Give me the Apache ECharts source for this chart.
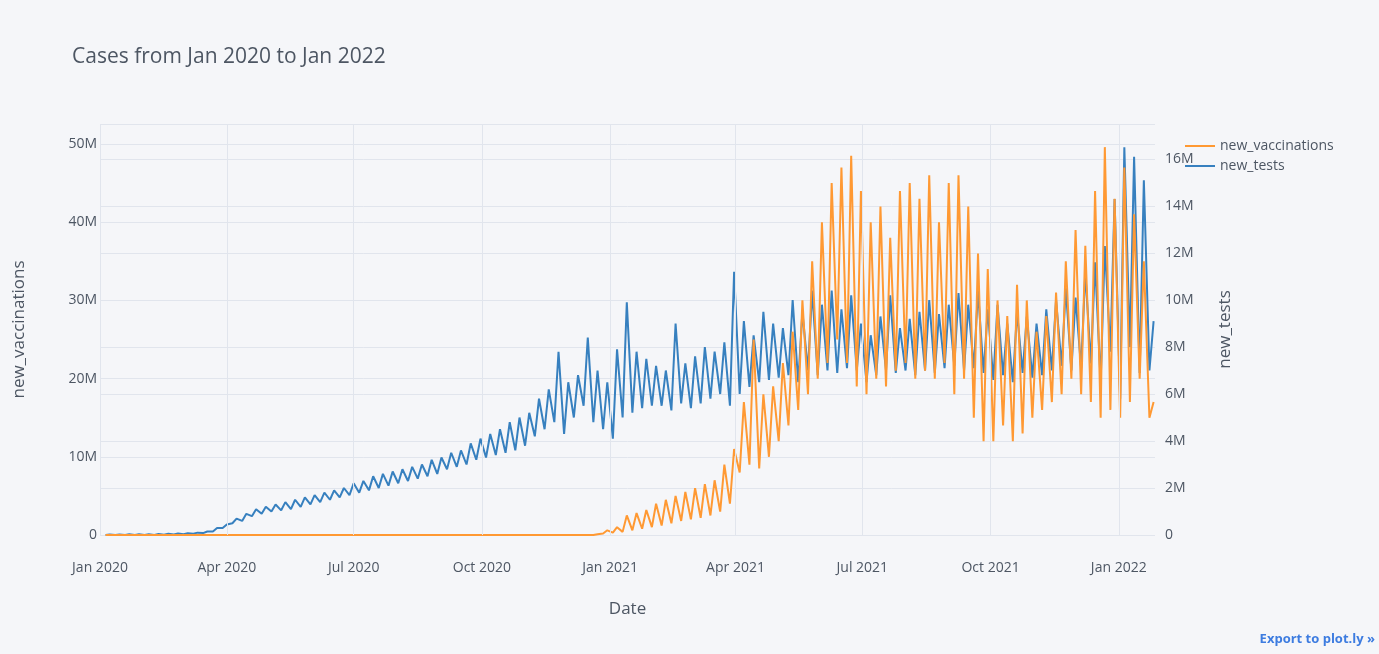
<!DOCTYPE html>
<html>
<head>
<meta charset="utf-8">
<script src="https://cdn.jsdelivr.net/npm/echarts@6/dist/echarts.min.js"></script>
<style>
  html, body { margin: 0; padding: 0; background: #f5f6f9; }
  #chart { width: 1379px; height: 654px; }
</style>
</head>
<body>
<div id="chart"></div>
<script>
// Weekly readings, week 0 starts Sun 2020-01-05. Trough on Sunday, peak mid-week.
const firstWeek = "2020-01-05";

// new_tests (right axis), millions
const testPeaks = [
  0.02, 0.02, 0.03, 0.03, 0.03, 0.04, 0.05, 0.06,
  0.08, 0.1, 0.15, 0.3, 0.45,
  0.7, 0.9, 1.1, 1.2,
  1.3, 1.4, 1.5, 1.6, 1.7,
  1.8, 1.9, 2.0, 2.2,
  2.3, 2.5, 2.6, 2.7, 2.8,
  2.9, 3.0, 3.2, 3.3,
  3.5, 3.6, 3.9, 4.1,
  4.3, 4.5, 4.8, 5.0, 5.2,
  5.8, 6.2, 7.8, 6.5,
  6.8, 8.4, 7.0, 6.5,
  7.9, 9.9, 7.8, 7.5, 7.2,
  7.0, 9.0, 7.3, 7.6,
  8.0, 7.8, 8.2, 11.2,
  9.1, 8.5, 9.5, 9.0, 8.8,
  10.0, 9.5, 10.4, 9.8,
  10.4, 9.6, 10.2, 9.0,
  8.5, 9.3, 10.2, 8.8, 9.2,
  9.5, 10.0, 9.4, 9.8,
  10.3, 9.8, 10.4, 9.6,
  9.8, 9.0, 9.5, 9.3, 9.0,
  9.6, 10.0, 10.5, 10.1,
  11.2, 11.6, 12.3, 14.3,
  16.5, 16.1, 15.1, 9.1
];
const testTroughs = [
  0, 0, 0, 0, 0, 0, 0.01, 0.02,
  0.03, 0.05, 0.08, 0.15, 0.3,
  0.5, 0.6, 0.8, 0.9,
  1.0, 1.05, 1.1, 1.2, 1.3,
  1.4, 1.5, 1.6, 1.7,
  1.8, 1.9, 2.0, 2.1, 2.2,
  2.3, 2.4, 2.5, 2.6,
  2.8, 2.9, 3.0, 3.2,
  3.3, 3.4, 3.5, 3.6, 3.8,
  4.2, 4.5, 4.8, 4.3,
  5.0, 5.5, 4.8, 4.5,
  4.1, 5.0, 5.2, 5.4, 5.5,
  5.5, 5.3, 5.6, 5.4,
  5.6, 5.8, 6.0, 5.5,
  6.0, 6.3, 6.5, 6.6, 6.7,
  6.8, 6.5, 7.0, 6.8,
  7.0, 6.9, 7.1, 7.0,
  6.5, 6.8, 7.0, 6.9, 7.0,
  6.8, 7.0, 6.9, 7.1,
  7.2, 7.0, 7.1, 6.9,
  6.6, 6.8, 6.5, 6.9, 6.7,
  6.8, 7.0, 7.2, 7.0,
  7.1, 7.3, 6.5, 7.8,
  5.8, 8.0, 6.9, 7.0
];

// new_vaccinations (left axis), millions; zero before week 50
const vaxStartWeek = 50;
const vaxPeaks = [
  0.1, 0.6, 1.0, 2.5, 2.8, 3.2, 4.0, 4.5, 5.0, 5.5, 6.0, 6.5, 7.0, 9.0, 11.0,
  17, 25, 18, 19, 22, 26, 30, 35, 40, 45, 47, 48.5, 44, 40, 42, 38, 44, 45,
  43, 46, 40, 45, 46, 42, 36, 34, 30, 28, 32, 30, 26, 28, 31, 35, 39, 37,
  44, 49.6, 43, 47, 41, 35, 17
];
const vaxTroughs = [
  0, 0.2, 0.3, 0.4, 0.6, 0.8, 1.0, 1.2, 1.5, 1.8, 2.0, 2.2, 2.5, 3.0, 4.0,
  8, 9, 8.5, 10, 12, 14, 16, 18, 20, 22, 25, 22, 19, 18, 20, 19, 21, 22,
  20, 21, 20, 22, 18, 20, 15, 12, 12, 14, 12, 13, 15, 16, 17, 18, 20, 18,
  17, 15, 16, 15, 17, 20, 15
];

const quarterTicks = ["2020-01-01", "2020-04-01", "2020-07-01", "2020-10-01",
  "2021-01-01", "2021-04-01", "2021-07-01", "2021-10-01", "2022-01-01"];
const monthNames = ["Jan", "Feb", "Mar", "Apr", "May", "Jun", "Jul", "Aug", "Sep", "Oct", "Nov", "Dec"];

const DAY = 86400000;
const t0 = Date.parse(firstWeek);

function weeklyPoints(peaks, troughs, offsetWeek) {
  const pts = [];
  for (let i = 0; i < peaks.length; i++) {
    const start = t0 + (i + offsetWeek) * 7 * DAY;
    pts.push([start, troughs[i] * 1e6]);
    pts.push([start + 3 * DAY, peaks[i] * 1e6]);
  }
  return pts;
}

const testsData = weeklyPoints(testPeaks, testTroughs, 0);
const vaxData = [];
for (let i = 0; i < vaxStartWeek; i++) {
  const start = t0 + i * 7 * DAY;
  vaxData.push([start, 0], [start + 3 * DAY, 0]);
}
vaxData.push(...weeklyPoints(vaxPeaks, vaxTroughs, vaxStartWeek));

const tickTimes = quarterTicks.map((d) => Date.parse(d));
const font = "'Open Sans', sans-serif";
const gridColor = "#e1e5ed";
const textColor = "#4d5663";

function fmtM(v) {
  return v === 0 ? "0" : Math.round(v / 1e6) + "M";
}

const chart = echarts.init(document.getElementById("chart"));
chart.setOption({
  backgroundColor: "#f5f6f9",
  animation: false,
  textStyle: { fontFamily: font },
  title: {
    text: "Cases from Jan 2020 to Jan 2022",
    left: 67, top: 42,
    textStyle: { fontFamily: font, fontSize: 21, fontWeight: "normal", color: textColor }
  },
  legend: {
    orient: "vertical", left: 1180, top: 134, itemGap: 6,
    itemWidth: 30, itemHeight: 2, icon: "rect",
    textStyle: { fontFamily: font, fontSize: 14, color: textColor },
    data: ["new_vaccinations", "new_tests"]
  },
  grid: { left: 100, right: 224, top: 124, bottom: 119 },
  xAxis: {
    type: "value",
    min: Date.parse("2020-01-01"),
    max: Date.parse("2022-01-27"),
    name: "Date", nameLocation: "middle", nameGap: 66,
    nameTextStyle: { fontFamily: font, fontSize: 17, color: textColor },
    axisLine: { show: false }, axisTick: { show: false },
    splitLine: { show: false },
    axisLabel: {
      customValues: tickTimes, margin: 26,
      fontFamily: font, fontSize: 14, color: textColor,
      formatter: (v) => { const d = new Date(v); return monthNames[d.getUTCMonth()] + " " + d.getUTCFullYear(); }
    }
  },
  yAxis: [
    {
      type: "value", min: 0, max: 52.56e6, interval: 10e6,
      name: "new_vaccinations", nameLocation: "middle", nameGap: 72,
      nameTextStyle: { fontFamily: font, fontSize: 17, color: textColor },
      axisLine: { show: false }, axisTick: { show: false },
      axisLabel: { showMaxLabel: false, fontFamily: font, fontSize: 14, color: textColor, margin: 3, formatter: fmtM },
      splitLine: { lineStyle: { color: gridColor } }
    },
    {
      type: "value", min: 0, max: 17.49e6, interval: 2e6,
      name: "new_tests", nameLocation: "middle", nameGap: 62,
      nameTextStyle: { fontFamily: font, fontSize: 17, color: textColor },
      axisLine: { show: false }, axisTick: { show: false },
      axisLabel: { showMaxLabel: false, fontFamily: font, fontSize: 14, color: textColor, margin: 10, formatter: fmtM },
      splitLine: { lineStyle: { color: gridColor } }
    }
  ],
  series: [
    {
      name: "grid", type: "line", data: [], z: 1, silent: true,
      markLine: {
        silent: true, symbol: "none", label: { show: false },
        lineStyle: { color: gridColor, type: "solid", width: 1 },
        data: tickTimes.map((t) => ({ xAxis: t }))
      }
    },
    {
      name: "new_vaccinations", type: "line", yAxisIndex: 0, z: 3,
      showSymbol: false, color: "#ff9933",
      lineStyle: { width: 2 }, data: vaxData
    },
    {
      name: "new_tests", type: "line", yAxisIndex: 1, z: 2,
      showSymbol: false, color: "#3780bf",
      lineStyle: { width: 2 }, data: testsData
    }
  ],
  graphic: [{
    type: "text", right: 4, bottom: 8,
    style: { text: "Export to plot.ly »", fill: "#3d7ce0", font: "bold 13px 'Open Sans', sans-serif" }
  }]
});
</script>
</body>
</html>
